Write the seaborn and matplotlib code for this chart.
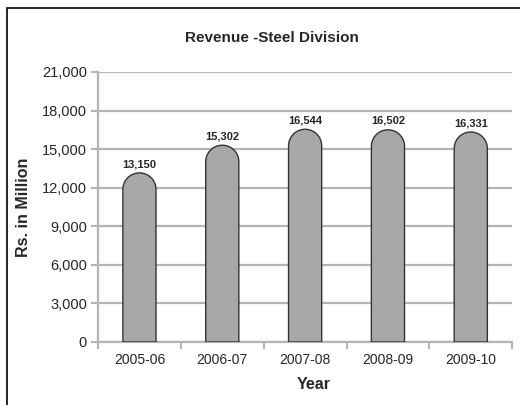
import numpy as np
import pandas as pd
import matplotlib
matplotlib.use("Agg")
import matplotlib.pyplot as plt
import seaborn as sns
from matplotlib.path import Path
from matplotlib.patches import PathPatch, Rectangle

years = ["2005-06", "2006-07", "2007-08", "2008-09", "2009-10"]
revenue = [13150, 15302, 16544, 16502, 16331]
y_ticks = [0, 3000, 6000, 9000, 12000, 15000, 18000, 21000]

df = pd.DataFrame({"Year": years, "Revenue": revenue})

sns.set_theme(style="white")
plt.rcParams["font.family"] = ["Liberation Sans", "DejaVu Sans"]

grid_grey = "#b4b4b4"

fig = plt.figure(figsize=(5.2, 4.05), dpi=100)
ax = fig.add_axes([0.1885, 0.1556, 0.7965, 0.6667])

sns.barplot(data=df, x="Year", y="Revenue", ax=ax, color="#a8a8a8", width=0.4,
            saturation=1, edgecolor="#333333", linewidth=1)

ax.set_ylim(0, 21000)
ax.set_xlim(-0.5, 4.5)
ax.set_yticks(y_ticks)
ax.set_yticklabels([f"{v:,}" for v in y_ticks], fontsize=10.5)
ax.tick_params(axis="x", labelsize=10, length=0, pad=8)
ax.tick_params(axis="y", length=5, color=grid_grey, width=1.5, pad=3, left=True)
ax.set_xticks(np.arange(-0.5, 5, 1), minor=True)
ax.tick_params(axis="x", which="minor", length=5, color=grid_grey, width=1.5, bottom=True)

ax.yaxis.grid(True, color=grid_grey, linewidth=1.6)
ax.set_axisbelow(True)
for s in ["top", "right"]:
    ax.spines[s].set_visible(False)
for s in ["left", "bottom"]:
    ax.spines[s].set_color(grid_grey)
    ax.spines[s].set_linewidth(1.6)

ax.set_xlabel("Year", fontsize=11.5, fontweight="bold", labelpad=8)
ax.xaxis.set_label_coords(0.52, -0.13)
ax.set_ylabel("Rs. in Million", fontsize=11.5, fontweight="bold", labelpad=8)
fig.text(0.523, 0.905, "Revenue -Steel Division", ha="center", va="center",
         fontsize=11, fontweight="bold")

# turn the flat bar tops into rounded domes
fig.canvas.draw()
bbox = ax.get_window_extent()
px_per_y = bbox.height / 21000
px_per_x = bbox.width / 5
for p in list(ax.patches):
    x0, w, h = p.get_x(), p.get_width(), p.get_height()
    r_px = w * px_per_x / 2
    rd = r_px / px_per_y
    t = np.linspace(np.pi, 0, 40)
    cx = x0 + w / 2
    arc = np.column_stack([cx + (w / 2) * np.cos(t), (h - rd) + rd * np.sin(t)])
    verts = np.vstack([[x0, 0], arc, [x0 + w, 0], [x0, 0]])
    codes = [Path.MOVETO] + [Path.LINETO] * (len(verts) - 2) + [Path.CLOSEPOLY]
    ax.add_patch(PathPatch(Path(verts, codes), facecolor=p.get_facecolor(),
                           edgecolor="#333333", linewidth=1, zorder=3))
    p.set_visible(False)
    ax.text(cx, h + 300, f"{int(h):,}", ha="center", va="bottom",
            fontsize=8, fontweight="bold")

# outer frame
fig.patches.append(Rectangle((0.0135, -0.1), 1.2, 1.08, transform=fig.transFigure,
                             fill=False, edgecolor="black", linewidth=1.2))

fig.savefig("out.png", dpi=100)
